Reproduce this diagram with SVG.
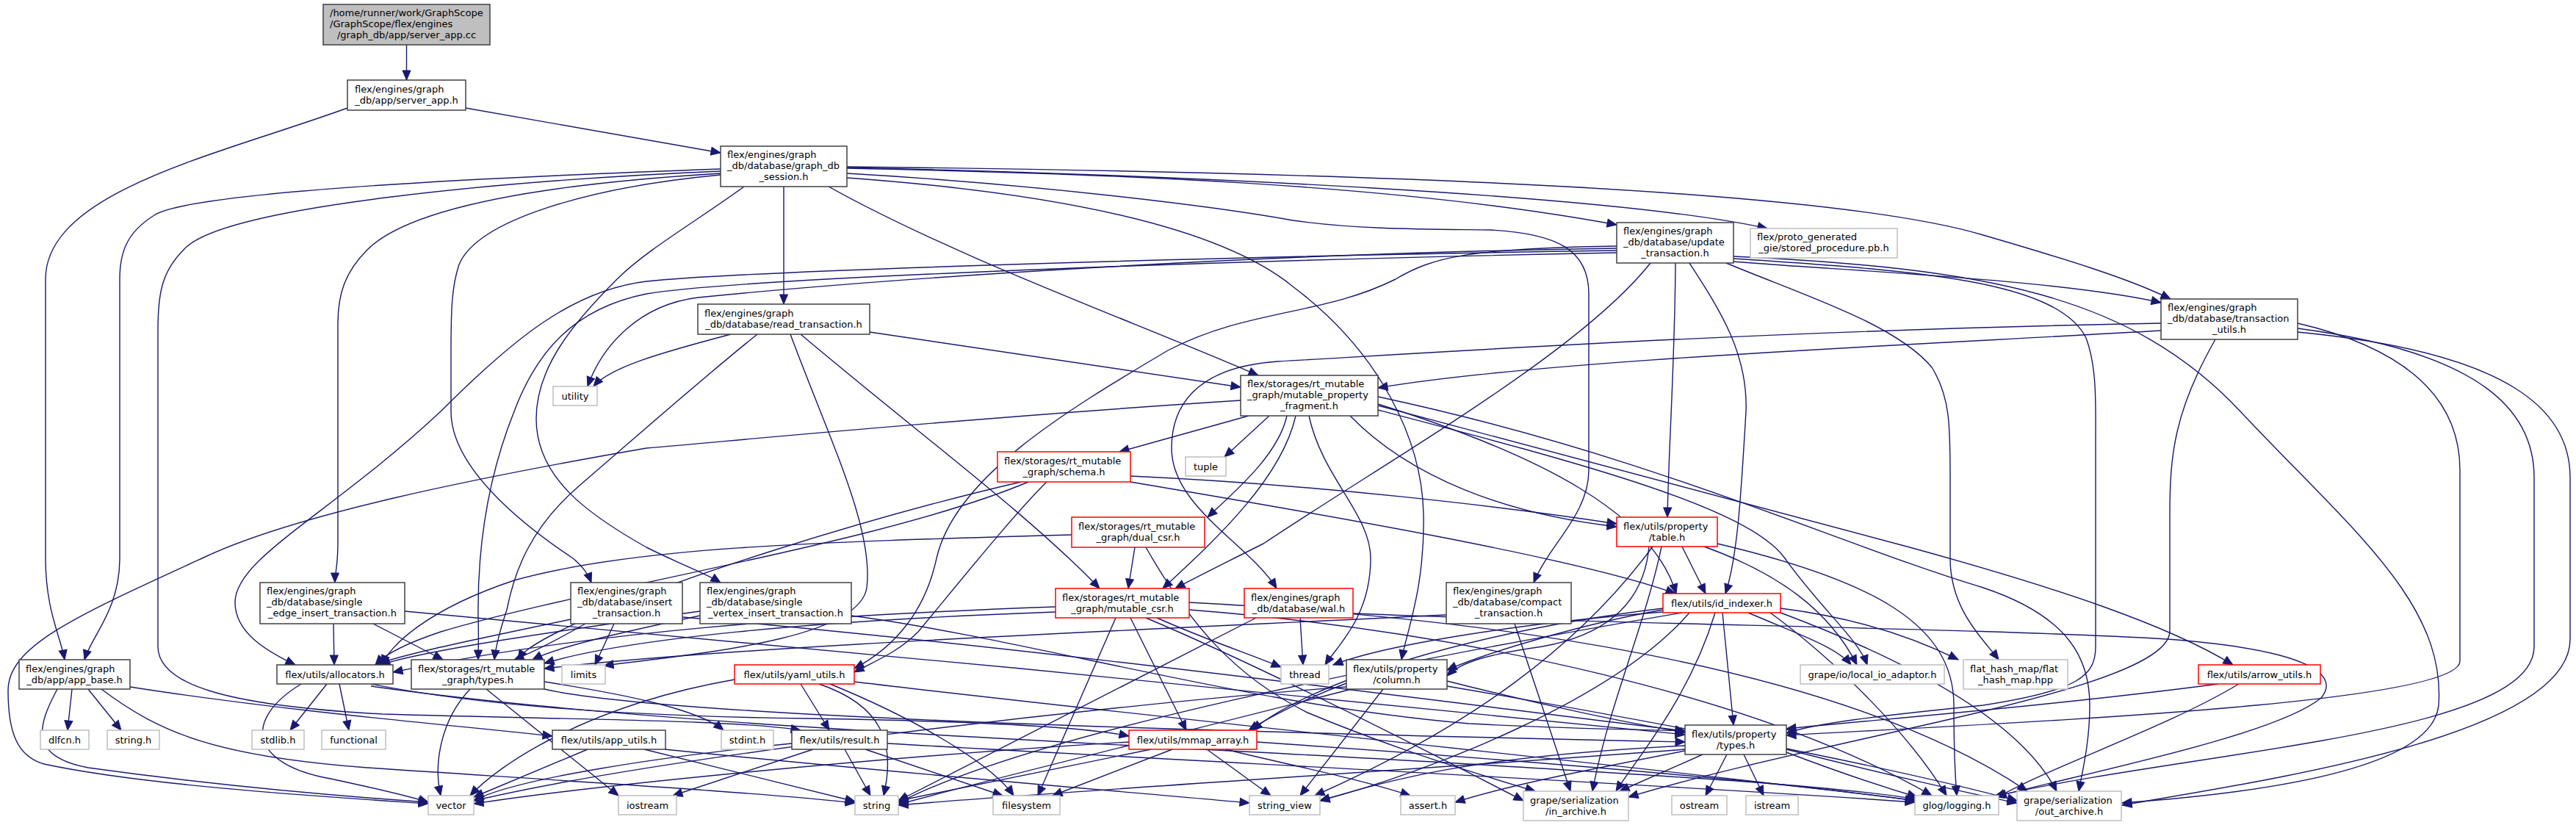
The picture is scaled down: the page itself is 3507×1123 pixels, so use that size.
<svg xmlns="http://www.w3.org/2000/svg" width="3507" height="1123" viewBox="0 0 3507 1123">
<style>
.e path{fill:none;stroke:#191970;stroke-width:1.4;marker-end:url(#arr)}
.n rect{fill:#fff;stroke:#404040;stroke-width:1.5}
.n.g rect{stroke:#bfbfbf}
.n.r rect{stroke:#ff0000}
.n.root rect{fill:#bfbfbf}
text{font-family:"DejaVu Sans","Liberation Sans",sans-serif;font-size:13px;fill:#000}
.m{text-anchor:middle}
</style>
<defs>
<marker id="arr" markerUnits="userSpaceOnUse" markerWidth="14" markerHeight="12" refX="13" refY="5.5" orient="auto" overflow="visible"><path d="M0,0 L13,5.5 L0,11 z" fill="#191970" stroke="#191970" stroke-width="1"/></marker>
</defs>
<rect width="3507" height="1123" fill="#fff"/>
<g id="edges" class="e">
<path d="M553.5,61 L553.5,109"/>
<path d="M473,147 C300,210 62,260 62,380 L62,760 C62,830 82,865 88,898"/>
<path d="M634,147 L981,208"/>
<path d="M981,230 C700,240 260,260 210,293 C175,315 163,340 163,380 L163,760 C163,830 125,865 115,898"/>
<path d="M981,233 C700,245 300,280 250,340 C220,370 215,400 215,450 L215,880 C215,930 300,960 520,972 C800,980 1000,980 1090,994"/>
<path d="M981,236 C750,250 560,280 500,340 C470,370 460,400 460,440 L460,740 C460,770 456,780 456,793"/>
<path d="M981,238 C800,255 650,300 625,360 C615,390 614,420 614,480 L614,560 C614,640 720,720 780,760 C795,772 802,785 805,793"/>
<path d="M1013,254 C950,300 880,340 840,380 C780,440 730,500 730,570 C730,650 800,700 880,745 C930,770 960,780 981,793"/>
<path d="M1067,254 L1067,414"/>
<path d="M1128,254 C1300,350 1550,440 1713,511"/>
<path d="M1153,229 C1500,236 1900,250 2201,306"/>
<path d="M1153,228 C1600,238 2200,265 2406,311"/>
<path d="M1153,227 C1900,235 2500,260 2700,320 C2820,355 2900,380 2955,407"/>
<path d="M1153,236 C1400,250 1650,280 1760,300 C1850,313 1950,312 2030,313 C2120,318 2163,340 2163,400 L2163,640 C2163,700 2110,740 2088,793"/>
<path d="M1153,242 C1400,260 1650,300 1760,390 C1880,480 1936,600 1938,700 C1940,800 1915,860 1908,898"/>
<path d="M2360,356 C2500,368 2800,380 2942,412"/>
<path d="M2201,338 C1700,345 1200,380 950,405 C870,415 820,470 800,526"/>
<path d="M2201,341 C1600,350 1000,370 880,383 C780,395 700,460 600,560 C450,700 320,760 320,820 C320,860 360,885 402,905"/>
<path d="M2201,344 C1600,356 1000,380 880,400 C780,420 730,480 700,560 C660,660 650,760 651,840 C652,870 651,885 651,898"/>
<path d="M2247,358 C2150,480 1900,620 1720,740 C1660,770 1620,790 1600,801"/>
<path d="M2281,358 C2280,500 2272,600 2270,704"/>
<path d="M2300,358 C2340,420 2380,480 2377,560 C2370,680 2365,760 2349,808"/>
<path d="M2350,358 C2450,400 2580,440 2630,500 C2655,540 2655,580 2655,650 L2655,760 C2655,830 2700,870 2721,898"/>
<path d="M2360,352 C2600,368 2800,380 2840,460 C2855,500 2853,550 2853,600 L2853,880 C2853,920 2830,940 2700,960 C2550,975 2470,985 2432,998"/>
<path d="M2360,349 C2700,365 2900,400 3050,560 C3200,720 3330,820 3320,960 C3310,1060 3000,1085 2889,1093"/>
<path d="M2201,335 C2000,338 1950,350 1900,380 C1800,430 1700,420 1590,477 C1450,560 1300,650 1275,760 C1260,830 1220,880 1163,910"/>
<path d="M2942,450 C2600,470 2100,490 1876,528"/>
<path d="M2942,440 C2400,450 1950,480 1740,492 C1620,500 1595,560 1595,610 C1595,690 1700,740 1738,801"/>
<path d="M3016,462 C2960,560 2954,620 2954,700 L2954,860 C2950,940 2500,1000 2217,1085"/>
<path d="M3128,440 C3300,480 3349,560 3349,640 L3349,900 C3349,960 2700,985 2432,1001"/>
<path d="M3128,447 C3380,480 3450,560 3450,650 L3450,880 C3450,1000 3000,1020 2715,1084"/>
<path d="M3128,452 C3420,480 3499,560 3499,650 L3499,870 C3499,1000 3100,1060 2889,1096"/>
<path d="M1184,452 L1689,527"/>
<path d="M995,455 C900,480 830,500 808,526"/>
<path d="M1031,455 C950,520 860,600 790,660 C720,720 700,780 690,830 C680,860 675,880 673,898"/>
<path d="M1076,455 C1130,600 1190,720 1180,800 C1170,870 950,890 822,906"/>
<path d="M1090,455 C1250,590 1400,700 1497,801"/>
<path d="M1700,566 L1524,615"/>
<path d="M1728,566 L1667,622"/>
<path d="M1752,566 C1740,620 1680,670 1644,704"/>
<path d="M1764,566 C1745,650 1660,730 1583,801"/>
<path d="M1838,566 C1920,650 2050,700 2201,717"/>
<path d="M1876,550 C2100,620 2250,700 2282,808"/>
<path d="M1782,566 C1800,650 1866,700 1866,760 C1866,840 1820,880 1804,905"/>
<path d="M1876,558 C2150,630 2380,690 2430,760 C2480,830 2530,870 2542,905"/>
<path d="M1876,552 L2600,745 C2800,800 2950,850 3040,905"/>
<path d="M1689,545 C1300,570 1000,600 880,610 C650,650 400,700 275,760 C100,840 11,880 11,940 C11,1000 25,1030 60,1040 C200,1070 450,1085 583,1094"/>
<path d="M1876,540 C2250,620 2500,740 2700,800 C2820,840 2845,900 2845,960 C2845,1010 2835,1050 2830,1077"/>
<path d="M1842,835 C2200,850 2700,855 2950,870 C3150,885 3185,920 3160,950 C3100,1000 2850,1050 2718,1084"/>
<path d="M1770,841 L1774,905"/>
<path d="M1710,841 C1500,950 1300,1050 1223,1090"/>
<path d="M1539,648 C1800,660 2050,690 2201,713"/>
<path d="M1539,656 C1800,700 2150,760 2281,808"/>
<path d="M1425,656 C1380,700 1300,800 1250,860 C1220,890 1190,900 1163,915"/>
<path d="M1390,656 C1200,700 900,790 760,860 C720,880 710,890 705,898"/>
<path d="M1400,656 C1200,740 800,800 600,860 C540,880 520,895 511,905"/>
<path d="M1545,745 L1536,801"/>
<path d="M1459,728 C1100,738 860,745 700,790 C580,830 530,880 520,905"/>
<path d="M1560,745 C1620,850 1680,920 1780,970 C1900,1020 2000,1050 2090,1077"/>
<path d="M2290,744 L2322,808"/>
<path d="M2245,744 C2240,800 2210,860 2100,880 C2030,890 1990,900 1970,920"/>
<path d="M2320,744 C2420,780 2490,830 2528,905"/>
<path d="M2250,744 C2150,880 2000,990 1790,1083"/>
<path d="M2338,740 C2550,790 2660,850 2660,960 C2660,1020 2662,1060 2664,1083"/>
<path d="M2262,744 C2240,850 2190,960 2168,1077"/>
<path d="M2345,834 L2360,987"/>
<path d="M2380,834 C2440,860 2500,880 2520,905"/>
<path d="M2424,828 C2520,840 2600,865 2666,898"/>
<path d="M2264,833 C2050,850 1880,880 1815,905"/>
<path d="M2300,834 C2200,950 1950,1050 1797,1090"/>
<path d="M2335,834 C2300,950 2230,1030 2200,1077"/>
<path d="M2424,834 C2600,900 2750,980 2800,1077"/>
<path d="M2410,834 C2500,900 2600,1000 2650,1083"/>
<path d="M2264,828 C2000,860 1780,930 1705,994"/>
<path d="M2264,830 C2150,850 2020,890 1970,912"/>
<path d="M2290,834 C1900,900 1400,1000 1223,1093"/>
<path d="M445,931 L395,994"/>
<path d="M462,931 L475,994"/>
<path d="M410,931 C330,980 340,1040 450,1060 C520,1075 560,1085 583,1092"/>
<path d="M505,931 C650,960 850,975 1100,978 C1350,982 1480,990 1537,1002"/>
<path d="M505,934 C900,990 1500,1010 2000,1040 C2300,1058 2500,1070 2610,1088"/>
<path d="M662,938 L842,1083"/>
<path d="M741,938 C900,975 1600,995 2294,1010"/>
<path d="M741,928 C850,945 950,965 985,994"/>
<path d="M640,938 C600,980 590,1040 600,1083"/>
<path d="M1090,931 L1129,994"/>
<path d="M1115,931 C1200,960 1220,1010 1203,1083"/>
<path d="M1130,931 C1250,980 1350,1040 1380,1083"/>
<path d="M1000,925 C800,960 680,1040 640,1083"/>
<path d="M1163,928 C1600,980 2300,1050 2610,1090"/>
<path d="M1970,927 C2100,960 2220,985 2294,997"/>
<path d="M1833,930 C1780,950 1730,975 1700,994"/>
<path d="M1883,938 L1770,1083"/>
<path d="M1833,935 C1500,960 900,1030 645,1090"/>
<path d="M1970,934 C2300,990 2600,1050 2746,1090"/>
<path d="M1840,938 C1600,1000 1350,1060 1223,1095"/>
<path d="M3020,931 C2800,960 2550,980 2432,992"/>
<path d="M3048,931 C2950,990 2800,1040 2718,1086"/>
<path d="M800,1020 L645,1085"/>
<path d="M877,1020 L1164,1091"/>
<path d="M905,1020 C1200,1050 1500,1075 1701,1093"/>
<path d="M98,938 L92,994"/>
<path d="M120,938 L165,994"/>
<path d="M78,938 C50,990 40,1030 120,1045 C300,1070 480,1085 583,1092"/>
<path d="M138,938 C220,1000 300,1030 500,1045 C800,1065 1050,1080 1164,1093"/>
<path d="M177,935 C400,970 650,990 752,1002"/>
<path d="M1107,1020 L916,1083"/>
<path d="M1150,1020 L1185,1083"/>
<path d="M1178,1020 L1365,1083"/>
<path d="M1208,1012 C1700,1040 2300,1070 2607,1092"/>
<path d="M1078,1012 C900,1030 700,1060 645,1090"/>
<path d="M1567,1020 L1223,1090"/>
<path d="M1596,1020 L1433,1083"/>
<path d="M1643,1020 L1730,1083"/>
<path d="M1668,1020 C1750,1040 1850,1060 1920,1083"/>
<path d="M1711,1010 C2000,1030 2400,1060 2607,1090"/>
<path d="M1537,1010 C1200,1030 800,1070 645,1094"/>
<path d="M2318,1027 L2205,1077"/>
<path d="M2351,1027 L2322,1083"/>
<path d="M2374,1027 L2401,1083"/>
<path d="M2294,1015 C2000,1030 1900,1060 1797,1090"/>
<path d="M2432,1020 C2550,1050 2680,1080 2746,1093"/>
<path d="M2432,1024 C2500,1050 2560,1070 2610,1085"/>
<path d="M2294,1020 C1900,1050 1400,1080 1223,1096"/>
<path d="M2294,1022 C2150,1050 2050,1070 1981,1092"/>
<path d="M454,849 L455,905"/>
<path d="M508,849 L603,898"/>
<path d="M551,832 C1000,870 1900,960 2294,1000"/>
<path d="M777,843 C650,870 550,890 511,905"/>
<path d="M797,849 C760,870 720,890 700,898"/>
<path d="M836,849 L810,905"/>
<path d="M929,840 C1400,880 2000,960 2294,995"/>
<path d="M953,832 C750,860 580,885 518,905"/>
<path d="M953,838 C850,860 760,880 725,898"/>
<path d="M1159,838 C1400,870 1700,960 2000,985 C2150,993 2250,993 2294,995"/>
<path d="M1969,837 C1500,860 1000,880 741,910"/>
<path d="M2062,849 L2138,1077"/>
<path d="M1437,826 C1100,838 800,860 535,915"/>
<path d="M1437,833 C1100,845 850,870 741,903"/>
<path d="M1519,841 L1413,1083"/>
<path d="M1539,841 L1615,994"/>
<path d="M1575,841 C1640,870 1700,890 1744,908"/>
<path d="M1560,841 C1700,900 1900,1000 2074,1090"/>
<path d="M1619,820 C2000,840 2500,900 2760,1077"/>
<path d="M1619,830 C2000,860 2400,950 2630,1083"/>
</g>
<g id="n1" class="n root"><rect x="440" y="6" width="227" height="55"/><text x="449" y="22">/home/runner/work/GraphScope</text><text x="449" y="37">/GraphScope/flex/engines</text><text class="m" x="553.5" y="52">/graph_db/app/server_app.cc</text></g>
<g id="n2" class="n"><rect x="473" y="109" width="161" height="41"/><text x="483" y="126">flex/engines/graph</text><text class="m" x="553.5" y="141">_db/app/server_app.h</text></g>
<g id="n3" class="n"><rect x="981" y="199" width="172" height="55"/><text x="990" y="215">flex/engines/graph</text><text x="990" y="230">_db/database/graph_db</text><text class="m" x="1067" y="245">_session.h</text></g>
<g id="n4" class="n"><rect x="2201" y="303" width="159" height="55"/><text x="2210" y="319">flex/engines/graph</text><text x="2210" y="334">_db/database/update</text><text class="m" x="2280.5" y="349">_transaction.h</text></g>
<g id="n5" class="n g"><rect x="2383" y="311" width="200" height="40"/><text x="2392" y="327">flex/proto_generated</text><text class="m" x="2483" y="342">_gie/stored_procedure.pb.h</text></g>
<g id="n6" class="n"><rect x="2942" y="407" width="186" height="55"/><text x="2951" y="423">flex/engines/graph</text><text x="2951" y="438">_db/database/transaction</text><text class="m" x="3035" y="453">_utils.h</text></g>
<g id="n7" class="n"><rect x="950" y="414" width="234" height="41"/><text x="959" y="431">flex/engines/graph</text><text class="m" x="1067" y="446">_db/database/read_transaction.h</text></g>
<g id="n8" class="n"><rect x="1689" y="511" width="187" height="55"/><text x="1698" y="527">flex/storages/rt_mutable</text><text x="1698" y="542">_graph/mutable_property</text><text class="m" x="1782.5" y="557">_fragment.h</text></g>
<g id="n9" class="n g"><rect x="753" y="526" width="60" height="26"/><text class="m" x="783" y="543.5">utility</text></g>
<g id="n10" class="n r"><rect x="1358" y="615" width="181" height="41"/><text x="1367" y="632">flex/storages/rt_mutable</text><text class="m" x="1448.5" y="647">_graph/schema.h</text></g>
<g id="n11" class="n g"><rect x="1614" y="622" width="55" height="26"/><text class="m" x="1641.5" y="639.5">tuple</text></g>
<g id="n12" class="n r"><rect x="1459" y="704" width="181" height="41"/><text x="1468" y="721">flex/storages/rt_mutable</text><text class="m" x="1549.5" y="736">_graph/dual_csr.h</text></g>
<g id="n13" class="n r"><rect x="2201" y="704" width="137" height="40"/><text x="2210" y="721">flex/utils/property</text><text class="m" x="2269.5" y="736">/table.h</text></g>
<g id="n14" class="n"><rect x="26" y="898" width="151" height="40"/><text x="35" y="915">flex/engines/graph</text><text class="m" x="101.5" y="930">_db/app/app_base.h</text></g>
<g id="n15" class="n"><rect x="354" y="793" width="197" height="56"/><text x="363" y="809">flex/engines/graph</text><text x="363" y="824">_db/database/single</text><text class="m" x="452.5" y="839">_edge_insert_transaction.h</text></g>
<g id="n16" class="n"><rect x="777" y="793" width="152" height="56"/><text x="786" y="809">flex/engines/graph</text><text x="786" y="824">_db/database/insert</text><text class="m" x="853" y="839">_transaction.h</text></g>
<g id="n17" class="n"><rect x="953" y="793" width="206" height="56"/><text x="962" y="809">flex/engines/graph</text><text x="962" y="824">_db/database/single</text><text class="m" x="1056" y="839">_vertex_insert_transaction.h</text></g>
<g id="n18" class="n r"><rect x="1437" y="801" width="182" height="40"/><text x="1446" y="818">flex/storages/rt_mutable</text><text class="m" x="1528" y="833">_graph/mutable_csr.h</text></g>
<g id="n19" class="n r"><rect x="1694" y="801" width="148" height="40"/><text x="1703" y="818">flex/engines/graph</text><text class="m" x="1768" y="833">_db/database/wal.h</text></g>
<g id="n20" class="n"><rect x="1969" y="793" width="170" height="56"/><text x="1978" y="809">flex/engines/graph</text><text x="1978" y="824">_db/database/compact</text><text class="m" x="2054" y="839">_transaction.h</text></g>
<g id="n21" class="n r"><rect x="2264" y="808" width="160" height="26"/><text class="m" x="2344" y="825.5">flex/utils/id_indexer.h</text></g>
<g id="n22" class="n"><rect x="377" y="905" width="158" height="26"/><text class="m" x="456" y="922.5">flex/utils/allocators.h</text></g>
<g id="n23" class="n"><rect x="560" y="898" width="181" height="40"/><text x="569" y="915">flex/storages/rt_mutable</text><text class="m" x="650.5" y="930">_graph/types.h</text></g>
<g id="n24" class="n g"><rect x="765" y="905" width="59" height="26"/><text class="m" x="794.5" y="922.5">limits</text></g>
<g id="n25" class="n r"><rect x="1000" y="905" width="163" height="26"/><text class="m" x="1081.5" y="922.5">flex/utils/yaml_utils.h</text></g>
<g id="n26" class="n g"><rect x="1744" y="905" width="65" height="26"/><text class="m" x="1776.5" y="922.5">thread</text></g>
<g id="n27" class="n"><rect x="1833" y="898" width="137" height="40"/><text x="1842" y="915">flex/utils/property</text><text class="m" x="1901.5" y="930">/column.h</text></g>
<g id="n28" class="n g"><rect x="2451" y="905" width="196" height="26"/><text class="m" x="2549" y="922.5">grape/io/local_io_adaptor.h</text></g>
<g id="n29" class="n g"><rect x="2673" y="898" width="142" height="40"/><text x="2682" y="915">flat_hash_map/flat</text><text class="m" x="2744" y="930">_hash_map.hpp</text></g>
<g id="n30" class="n r"><rect x="2993" y="905" width="166" height="26"/><text class="m" x="3076" y="922.5">flex/utils/arrow_utils.h</text></g>
<g id="n31" class="n g"><rect x="55" y="994" width="66" height="26"/><text class="m" x="88" y="1011.5">dlfcn.h</text></g>
<g id="n32" class="n g"><rect x="146" y="994" width="71" height="26"/><text class="m" x="181.5" y="1011.5">string.h</text></g>
<g id="n33" class="n g"><rect x="343" y="994" width="71" height="26"/><text class="m" x="378.5" y="1011.5">stdlib.h</text></g>
<g id="n34" class="n g"><rect x="438" y="994" width="87" height="26"/><text class="m" x="481.5" y="1011.5">functional</text></g>
<g id="n35" class="n"><rect x="752" y="994" width="154" height="26"/><text class="m" x="829" y="1011.5">flex/utils/app_utils.h</text></g>
<g id="n36" class="n g"><rect x="982" y="994" width="71" height="26"/><text class="m" x="1017.5" y="1011.5">stdint.h</text></g>
<g id="n37" class="n"><rect x="1078" y="994" width="130" height="26"/><text class="m" x="1143" y="1011.5">flex/utils/result.h</text></g>
<g id="n38" class="n r"><rect x="1537" y="994" width="174" height="26"/><text class="m" x="1624" y="1011.5">flex/utils/mmap_array.h</text></g>
<g id="n39" class="n"><rect x="2294" y="987" width="138" height="40"/><text x="2303" y="1004">flex/utils/property</text><text class="m" x="2363" y="1019">/types.h</text></g>
<g id="n40" class="n g"><rect x="583" y="1083" width="62" height="26"/><text class="m" x="614" y="1100.5">vector</text></g>
<g id="n41" class="n g"><rect x="842" y="1083" width="79" height="26"/><text class="m" x="881.5" y="1100.5">iostream</text></g>
<g id="n42" class="n g"><rect x="1164" y="1083" width="59" height="26"/><text class="m" x="1193.5" y="1100.5">string</text></g>
<g id="n43" class="n g"><rect x="1352" y="1083" width="91" height="26"/><text class="m" x="1397.5" y="1100.5">filesystem</text></g>
<g id="n44" class="n g"><rect x="1701" y="1083" width="96" height="26"/><text class="m" x="1749" y="1100.5">string_view</text></g>
<g id="n45" class="n g"><rect x="1907" y="1083" width="74" height="26"/><text class="m" x="1944" y="1100.5">assert.h</text></g>
<g id="n46" class="n g"><rect x="2074" y="1077" width="143" height="40"/><text x="2083" y="1094">grape/serialization</text><text class="m" x="2145.5" y="1109">/in_archive.h</text></g>
<g id="n47" class="n g"><rect x="2276" y="1083" width="75" height="26"/><text class="m" x="2313.5" y="1100.5">ostream</text></g>
<g id="n48" class="n g"><rect x="2377" y="1083" width="71" height="26"/><text class="m" x="2412.5" y="1100.5">istream</text></g>
<g id="n49" class="n g"><rect x="2607" y="1083" width="114" height="26"/><text class="m" x="2664" y="1100.5">glog/logging.h</text></g>
<g id="n50" class="n g"><rect x="2746" y="1077" width="142" height="40"/><text x="2755" y="1094">grape/serialization</text><text class="m" x="2817" y="1109">/out_archive.h</text></g>
</svg>
